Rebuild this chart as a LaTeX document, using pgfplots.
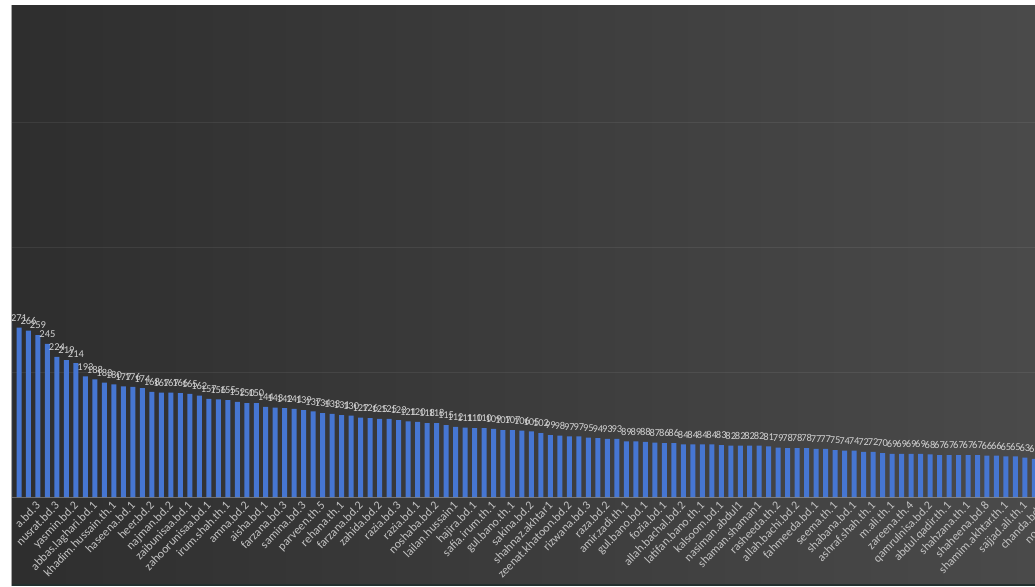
\documentclass[border=0pt]{standalone}
\usepackage{pgfplots}
\pgfplotsset{compat=1.18}
\usepackage{fontspec}
\setmainfont{Carlito}

\definecolor{bgL}{HTML}{2E2E2E}
\definecolor{bgR}{HTML}{4A4A4A}
\definecolor{bottomline}{HTML}{24302F}
\definecolor{barblue}{HTML}{4676D2}
\definecolor{lbl}{HTML}{C4C4C4}
\definecolor{vlbl}{HTML}{D2D2D2}

\begin{document}
\begin{tikzpicture}[x=1pt,y=1pt]
  % chart area (the reference is a crop of a wider chart)
  \fill[white] (0,0) rectangle (1035,586);
  \fill[bottomline] (11,0) rectangle (1035,3);
  \shade[left color=bgL, right color=bgR] (11,3) rectangle (1035,581);

  \begin{axis}[
    at={(11pt,89pt)}, anchor=south west,
    x=9.49pt, y=0.625pt,
    xmin=0.157, xmax=113, ymin=0, ymax=800,
    clip mode=individual,
    axis line style={draw=none},
    major tick length=0pt,
    ytick={200,400,600,800}, yticklabels={},
    ymajorgrids,
    grid style={white, opacity=0.07, line width=0.8pt},
    xtick={2,4,...,110},
    xticklabels={a.bd.3, nusrat.bd.3, yasmin.bd.2, abbas.laghari.bd.1,
      khadim.hussain.th.1, haseena.bd.1, heer.bd.2, najman.bd.2,
      zaibunisaa.bd.1, zahoorunisaa.bd.1, irum.shah.th.1, amna.bd.2,
      aisha.bd.1, farzana.bd.3, samina.bd.3, parveen.th.5, rehana.th.1,
      farzana.bd.2, zahida.bd.2, razia.bd.3, razia.bd.1, noshaba.bd.2,
      lailan.hussain1, hajira.bd.1, safia.irum.th.1, gul.bano.th.1,
      sakina.bd.2, shahnaz.akhtar1, zeenat.khatoon.bd.2, rizwana.bd.3,
      raza.bd.2, amir.zadi.th.1, gul.bano.bd.1, fozia.bd.1,
      allah.bachal.bd.2, latifan.bano.th.1, kalsoom.bd.1, nasiman.abdul1,
      shaman.shaman1, rasheeda.th.2, allah.bachi.bd.2, fahmeeda.bd.1,
      seema.th.1, shabana.bd.1, ashraf.shah.th.1, m.ali.th.1, zareena.th.4,
      qamrulnisa.bd.2, abdul.qadir.th.1, shahzana.th.1, shaheena.bd.8,
      shamim.akhtar.th.1, sajjad.ali.th.1, chanda.bd.2, noor.jehan},
    xticklabel style={rotate=46, anchor=north east, inner sep=0pt,
      font=\fontsize{12}{14}\selectfont, text=lbl, yshift=-7pt, xshift=2pt},
    /pgf/number format/assume math mode=true,
  ]
    \addplot[ybar, bar width=5pt, fill=barblue, draw=none,
      nodes near coords,
      every node near coord/.append style={anchor=south, inner sep=0pt,
        yshift=6pt, text=vlbl, font=\fontsize{10.5}{12}\selectfont}]
      coordinates {
      (0,279) (1,271) (2,266) (3,259) (4,245) (5,224) (6,219) (7,214)
      (8,193) (9,188) (10,183) (11,180) (12,177) (13,176) (14,174)
      (15,168) (16,167) (17,167) (18,166) (19,165) (20,162)
      (21,157) (22,156) (23,155) (24,152) (25,150) (26,150)
      (27,144) (28,143) (29,142) (30,141) (31,139) (32,137)
      (33,134) (34,133) (35,131) (36,130) (37,127) (38,126)
      (39,125) (40,125) (41,123) (42,121) (43,120) (44,118)
      (45,118) (46,115) (47,112) (48,111) (49,110) (50,110)
      (51,109) (52,107) (53,107) (54,106) (55,105) (56,102)
      (57,99) (58,98) (59,97) (60,97) (61,95) (62,94)
      (63,93) (64,93) (65,89) (66,89) (67,88) (68,87)
      (69,86) (70,86) (71,84) (72,84) (73,84) (74,84)
      (75,83) (76,82) (77,82) (78,82) (79,82) (80,81)
      (81,79) (82,78) (83,78) (84,78) (85,77) (86,77)
      (87,75) (88,74) (89,74) (90,72) (91,72) (92,70)
      (93,69) (94,69) (95,69) (96,69) (97,68) (98,67)
      (99,67) (100,67) (101,67) (102,67) (103,66) (104,66)
      (105,65) (106,65) (107,63) (108,61)
    };
    % category axis line
    \draw[white, opacity=0.3, line width=0.8pt]
      (axis cs:0.157,0) -- (axis cs:113,0);
  \end{axis}

  % crop edges as in the reference
  \fill[white] (0,0) rectangle (11,586);
  \fill[white] (0,581) rectangle (1035,586);
  \draw[gray!70, line width=0.8pt] (11.4,0) -- (11.4,581);

  \pgfresetboundingbox
  \path[use as bounding box] (0,0) rectangle (1035,586);
\end{tikzpicture}
\end{document}
